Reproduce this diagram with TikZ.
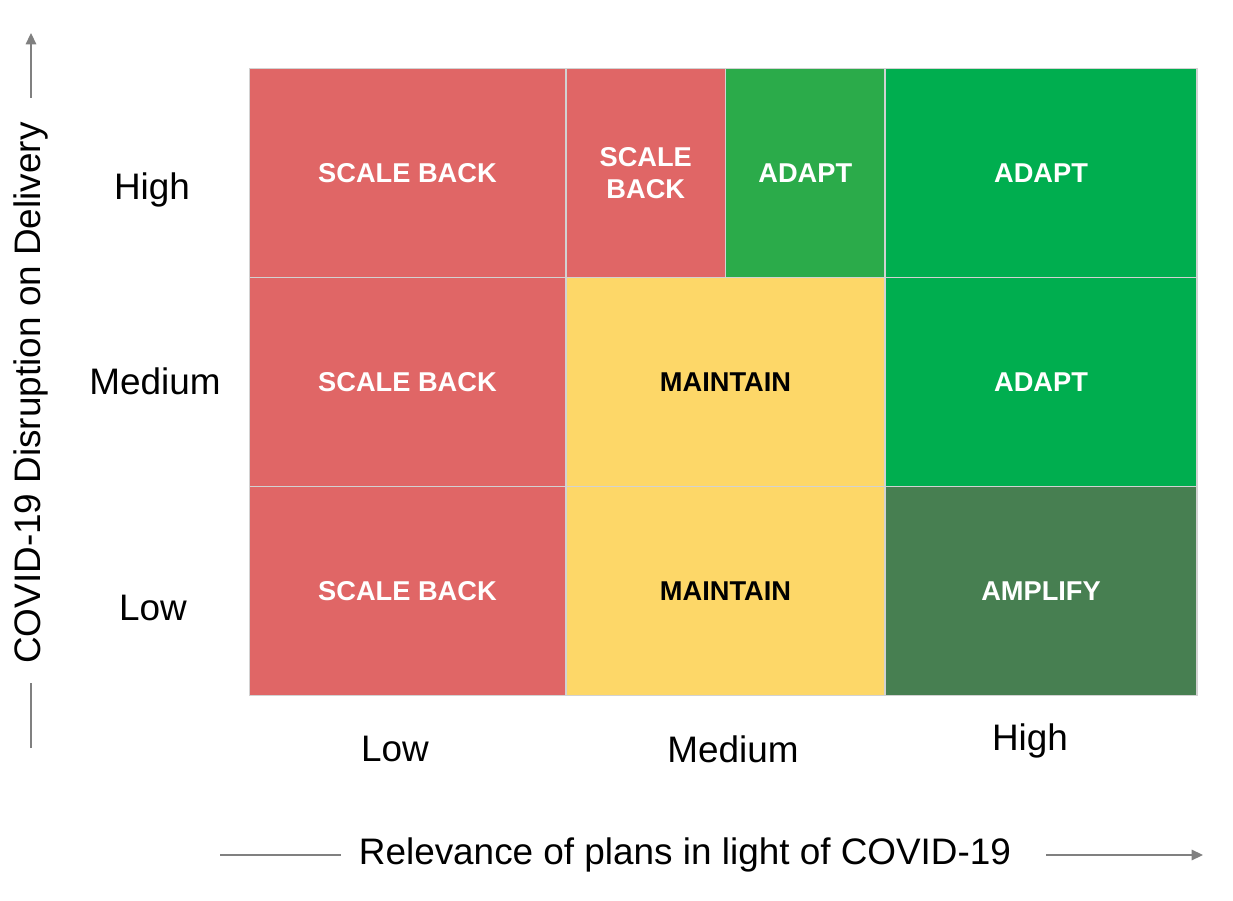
\documentclass[tikz,border=0pt]{standalone}
\usepackage{fontspec}
\setmainfont{Liberation Sans}
\usetikzlibrary{arrows.meta}
\definecolor{scaleback}{HTML}{E06666}
\definecolor{adaptmid}{HTML}{2BAB4A}
\definecolor{adapt}{HTML}{00AE4F}
\definecolor{maintain}{HTML}{FDD768}
\definecolor{amplify}{HTML}{477F51}
\definecolor{gridline}{HTML}{D2D2D2}
\definecolor{axisgray}{HTML}{808080}

\begin{document}
\begin{tikzpicture}[x=0.02cm, y=-0.02cm,
      cell/.style={draw=gridline, line width=0.6pt, inner sep=0pt, minimum height=4.18cm, align=center, text=white, font=\fontsize{15.5}{18.2}\selectfont\bfseries},
      level/.style={font=\fontsize{21}{24}\selectfont},
      axistitle/.style={font=\fontsize{21}{24}\selectfont, inner sep=0pt},
      axisline/.style={line width=0.9pt, color=axisgray},
      axisarrow/.style={axisline, -{Triangle[length=6.5pt, width=6pt]}}
    ]
      \useasboundingbox (0,0) rectangle (1233,901);
      % high disruption
      \node[cell, fill=scaleback, minimum width=6.34cm] (hl) at (407.5,173) {SCALE BACK};
      \node[cell, fill=scaleback, minimum width=3.19cm] (hma) at (645.75,173) {SCALE\\BACK};
      \node[cell, fill=adaptmid, minimum width=3.19cm] (hmb) at (805.25,173) {ADAPT};
      \node[cell, fill=adapt, minimum width=6.24cm] (hh) at (1041,173) {ADAPT};
      % medium disruption
      \node[cell, fill=scaleback, minimum width=6.34cm] (ml) at (407.5,382) {SCALE BACK};
      \node[cell, fill=maintain, text=black, minimum width=6.38cm] (mm) at (725.5,382) {MAINTAIN};
      \node[cell, fill=adapt, minimum width=6.24cm] (mh) at (1041,382) {ADAPT};
      % low disruption
      \node[cell, fill=scaleback, minimum width=6.34cm] (ll) at (407.5,591) {SCALE BACK};
      \node[cell, fill=maintain, text=black, minimum width=6.38cm] (lm) at (725.5,591) {MAINTAIN};
      \node[cell, fill=amplify, minimum width=6.24cm] (lh) at (1041,591) {AMPLIFY};
      % levels
      \node[level] (yhigh) at (152,190) {High};
      \node[level] (ymedium) at (155,381) {Medium};
      \node[level] (ylow) at (153,608) {Low};
      \node[level] (xlow) at (395,749) {Low};
      \node[level] (xmedium) at (733,749) {Medium};
      \node[level] (xhigh) at (1030,741) {High};
      % axes
      \node[axistitle] (xtitle) at (685,855) {Relevance of plans in light of COVID-19};
      \node[axistitle, rotate=90] (ytitle) at (31,393) {COVID-19 Disruption on Delivery};
      \coordinate (xleft) at (220,855);
      \coordinate (xright) at (1203,855);
      \coordinate (ybottom) at (31,748);
      \coordinate (ytop) at (31,33);
      \draw[axisline, shorten >=0.36cm] (xleft) -- (xtitle);
      \draw[axisarrow, shorten <=0.7cm] (xtitle) -- (xright);
      \draw[axisline, shorten >=0.38cm] (ybottom) -- (ytitle);
      \draw[axisarrow, shorten <=0.48cm] (ytitle) -- (ytop);
    \end{tikzpicture}
\end{document}
